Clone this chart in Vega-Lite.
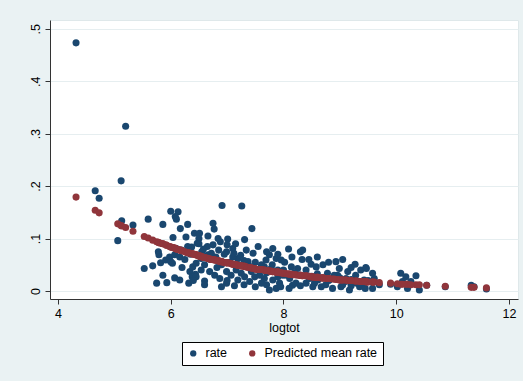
{
  "$schema": "https://vega.github.io/schema/vega-lite/v6.json",
  "width": 468,
  "height": 279,
  "autosize": {"type": "none"},
  "padding": {"left": 50, "top": 20, "right": 5, "bottom": 82},
  "background": "#EAF2F3",
  "config": {
    "font": "Liberation Sans",
    "view": {"fill": "white", "stroke": "#dfe8ea", "strokeWidth": 1}
  },
  "data": {"values": [
    {"logtot": 4.32, "rate": 0.473, "pred": 0.179},
    {"logtot": 4.66, "rate": 0.191, "pred": 0.154},
    {"logtot": 4.73, "rate": 0.177, "pred": 0.149},
    {"logtot": 5.06, "rate": 0.096, "pred": 0.128},
    {"logtot": 5.12, "rate": 0.210, "pred": 0.125},
    {"logtot": 5.13, "rate": 0.134, "pred": 0.124},
    {"logtot": 5.20, "rate": 0.314, "pred": 0.121},
    {"logtot": 5.33, "rate": 0.126, "pred": 0.114},
    {"logtot": 5.53, "rate": 0.043, "pred": 0.104},
    {"logtot": 5.60, "rate": 0.137, "pred": 0.101},
    {"logtot": 5.68, "rate": 0.048, "pred": 0.097},
    {"logtot": 5.75, "rate": 0.015, "pred": 0.094},
    {"logtot": 5.78, "rate": 0.075, "pred": 0.093},
    {"logtot": 5.79, "rate": 0.069, "pred": 0.092},
    {"logtot": 5.82, "rate": 0.054, "pred": 0.091},
    {"logtot": 5.86, "rate": 0.127, "pred": 0.090},
    {"logtot": 5.86, "rate": 0.030, "pred": 0.090},
    {"logtot": 5.91, "rate": 0.059, "pred": 0.088},
    {"logtot": 5.93, "rate": 0.016, "pred": 0.087},
    {"logtot": 5.98, "rate": 0.065, "pred": 0.085},
    {"logtot": 6.00, "rate": 0.152, "pred": 0.084},
    {"logtot": 6.13, "rate": 0.151, "pred": 0.079},
    {"logtot": 6.08, "rate": 0.142, "pred": 0.081},
    {"logtot": 6.10, "rate": 0.137, "pred": 0.080},
    {"logtot": 6.30, "rate": 0.127, "pred": 0.073},
    {"logtot": 6.17, "rate": 0.119, "pred": 0.078},
    {"logtot": 6.04, "rate": 0.102, "pred": 0.083},
    {"logtot": 6.27, "rate": 0.103, "pred": 0.074},
    {"logtot": 6.42, "rate": 0.110, "pred": 0.070},
    {"logtot": 6.07, "rate": 0.069, "pred": 0.082},
    {"logtot": 6.16, "rate": 0.065, "pred": 0.078},
    {"logtot": 6.03, "rate": 0.053, "pred": 0.083},
    {"logtot": 6.00, "rate": 0.056, "pred": 0.084},
    {"logtot": 6.07, "rate": 0.025, "pred": 0.082},
    {"logtot": 6.16, "rate": 0.021, "pred": 0.078},
    {"logtot": 6.32, "rate": 0.015, "pred": 0.073},
    {"logtot": 6.34, "rate": 0.037, "pred": 0.072},
    {"logtot": 6.39, "rate": 0.046, "pred": 0.071},
    {"logtot": 6.45, "rate": 0.053, "pred": 0.069},
    {"logtot": 6.44, "rate": 0.032, "pred": 0.069},
    {"logtot": 6.38, "rate": 0.027, "pred": 0.071},
    {"logtot": 6.37, "rate": 0.084, "pred": 0.071},
    {"logtot": 6.47, "rate": 0.091, "pred": 0.068},
    {"logtot": 6.19, "rate": 0.078, "pred": 0.077},
    {"logtot": 6.10, "rate": 0.081, "pred": 0.080},
    {"logtot": 6.91, "rate": 0.163, "pred": 0.056},
    {"logtot": 7.26, "rate": 0.162, "pred": 0.048},
    {"logtot": 6.75, "rate": 0.129, "pred": 0.060},
    {"logtot": 6.77, "rate": 0.118, "pred": 0.059},
    {"logtot": 7.44, "rate": 0.119, "pred": 0.044},
    {"logtot": 6.51, "rate": 0.110, "pred": 0.067},
    {"logtot": 6.66, "rate": 0.105, "pred": 0.062},
    {"logtot": 6.50, "rate": 0.100, "pred": 0.067},
    {"logtot": 6.84, "rate": 0.100, "pred": 0.058},
    {"logtot": 6.88, "rate": 0.094, "pred": 0.056},
    {"logtot": 7.01, "rate": 0.099, "pred": 0.054},
    {"logtot": 6.75, "rate": 0.088, "pred": 0.060},
    {"logtot": 7.31, "rate": 0.098, "pred": 0.047},
    {"logtot": 7.10, "rate": 0.081, "pred": 0.051},
    {"logtot": 6.99, "rate": 0.075, "pred": 0.054},
    {"logtot": 7.34, "rate": 0.078, "pred": 0.046},
    {"logtot": 7.46, "rate": 0.072, "pred": 0.043},
    {"logtot": 7.81, "rate": 0.081, "pred": 0.037},
    {"logtot": 7.75, "rate": 0.069, "pred": 0.038},
    {"logtot": 7.87, "rate": 0.062, "pred": 0.036},
    {"logtot": 7.69, "rate": 0.059, "pred": 0.039},
    {"logtot": 6.45, "rate": 0.027, "pred": 0.069},
    {"logtot": 6.60, "rate": 0.019, "pred": 0.064},
    {"logtot": 6.78, "rate": 0.030, "pred": 0.059},
    {"logtot": 6.87, "rate": 0.024, "pred": 0.057},
    {"logtot": 6.99, "rate": 0.015, "pred": 0.054},
    {"logtot": 7.07, "rate": 0.030, "pred": 0.052},
    {"logtot": 7.19, "rate": 0.021, "pred": 0.049},
    {"logtot": 7.31, "rate": 0.027, "pred": 0.047},
    {"logtot": 7.40, "rate": 0.018, "pred": 0.045},
    {"logtot": 7.49, "rate": 0.027, "pred": 0.043},
    {"logtot": 7.61, "rate": 0.015, "pred": 0.041},
    {"logtot": 7.66, "rate": 0.024, "pred": 0.040},
    {"logtot": 7.81, "rate": 0.021, "pred": 0.037},
    {"logtot": 7.90, "rate": 0.027, "pred": 0.036},
    {"logtot": 7.75, "rate": 0.002, "pred": 0.038},
    {"logtot": 7.87, "rate": 0.005, "pred": 0.036},
    {"logtot": 7.93, "rate": 0.015, "pred": 0.035},
    {"logtot": 6.99, "rate": 0.037, "pred": 0.054},
    {"logtot": 7.16, "rate": 0.040, "pred": 0.050},
    {"logtot": 7.25, "rate": 0.034, "pred": 0.048},
    {"logtot": 7.43, "rate": 0.037, "pred": 0.044},
    {"logtot": 7.55, "rate": 0.040, "pred": 0.041},
    {"logtot": 7.66, "rate": 0.046, "pred": 0.040},
    {"logtot": 7.78, "rate": 0.043, "pred": 0.038},
    {"logtot": 7.90, "rate": 0.040, "pred": 0.036},
    {"logtot": 6.54, "rate": 0.040, "pred": 0.066},
    {"logtot": 6.69, "rate": 0.037, "pred": 0.061},
    {"logtot": 6.54, "rate": 0.062, "pred": 0.066},
    {"logtot": 6.66, "rate": 0.069, "pred": 0.062},
    {"logtot": 7.19, "rate": 0.062, "pred": 0.049},
    {"logtot": 7.37, "rate": 0.056, "pred": 0.045},
    {"logtot": 7.61, "rate": 0.050, "pred": 0.041},
    {"logtot": 8.09, "rate": 0.080, "pred": 0.033},
    {"logtot": 8.30, "rate": 0.075, "pred": 0.030},
    {"logtot": 8.34, "rate": 0.078, "pred": 0.029},
    {"logtot": 8.33, "rate": 0.060, "pred": 0.029},
    {"logtot": 7.96, "rate": 0.059, "pred": 0.035},
    {"logtot": 8.02, "rate": 0.055, "pred": 0.034},
    {"logtot": 8.14, "rate": 0.046, "pred": 0.032},
    {"logtot": 8.25, "rate": 0.043, "pred": 0.030},
    {"logtot": 8.49, "rate": 0.051, "pred": 0.027},
    {"logtot": 8.58, "rate": 0.046, "pred": 0.026},
    {"logtot": 8.70, "rate": 0.050, "pred": 0.025},
    {"logtot": 8.93, "rate": 0.056, "pred": 0.022},
    {"logtot": 9.27, "rate": 0.051, "pred": 0.019},
    {"logtot": 8.99, "rate": 0.043, "pred": 0.021},
    {"logtot": 9.14, "rate": 0.037, "pred": 0.020},
    {"logtot": 9.37, "rate": 0.040, "pred": 0.018},
    {"logtot": 8.16, "rate": 0.011, "pred": 0.031},
    {"logtot": 8.22, "rate": 0.015, "pred": 0.031},
    {"logtot": 8.40, "rate": 0.015, "pred": 0.029},
    {"logtot": 8.52, "rate": 0.008, "pred": 0.027},
    {"logtot": 8.67, "rate": 0.008, "pred": 0.025},
    {"logtot": 8.87, "rate": 0.005, "pred": 0.023},
    {"logtot": 9.02, "rate": 0.008, "pred": 0.021},
    {"logtot": 9.17, "rate": 0.002, "pred": 0.020},
    {"logtot": 9.35, "rate": 0.008, "pred": 0.018},
    {"logtot": 8.46, "rate": 0.024, "pred": 0.028},
    {"logtot": 8.61, "rate": 0.021, "pred": 0.026},
    {"logtot": 8.81, "rate": 0.021, "pred": 0.024},
    {"logtot": 9.11, "rate": 0.024, "pred": 0.021},
    {"logtot": 9.43, "rate": 0.021, "pred": 0.018},
    {"logtot": 7.99, "rate": 0.030, "pred": 0.034},
    {"logtot": 8.11, "rate": 0.024, "pred": 0.032},
    {"logtot": 8.78, "rate": 0.034, "pred": 0.024},
    {"logtot": 8.96, "rate": 0.030, "pred": 0.022},
    {"logtot": 9.28, "rate": 0.030, "pred": 0.019},
    {"logtot": 9.46, "rate": 0.045, "pred": 0.018},
    {"logtot": 9.58, "rate": 0.034, "pred": 0.017},
    {"logtot": 9.61, "rate": 0.024, "pred": 0.017},
    {"logtot": 9.58, "rate": 0.005, "pred": 0.017},
    {"logtot": 9.47, "rate": 0.043, "pred": 0.017},
    {"logtot": 10.08, "rate": 0.034, "pred": 0.013},
    {"logtot": 10.17, "rate": 0.027, "pred": 0.013},
    {"logtot": 10.35, "rate": 0.029, "pred": 0.012},
    {"logtot": 10.02, "rate": 0.008, "pred": 0.014},
    {"logtot": 10.20, "rate": 0.005, "pred": 0.013},
    {"logtot": 10.41, "rate": 0.002, "pred": 0.012},
    {"logtot": 10.26, "rate": 0.018, "pred": 0.012},
    {"logtot": 10.11, "rate": 0.018, "pred": 0.013},
    {"logtot": 10.54, "rate": 0.011, "pred": 0.011},
    {"logtot": 11.33, "rate": 0.011, "pred": 0.007},
    {"logtot": 11.38, "rate": 0.008, "pred": 0.007},
    {"logtot": 9.70, "rate": 0.012, "pred": 0.016},
    {"logtot": 9.90, "rate": 0.013, "pred": 0.015},
    {"logtot": 10.87, "rate": 0.008, "pred": 0.009},
    {"logtot": 11.60, "rate": 0.004, "pred": 0.006},
    {"logtot": 6.20, "rate": 0.045, "pred": 0.077},
    {"logtot": 6.25, "rate": 0.060, "pred": 0.075},
    {"logtot": 6.35, "rate": 0.070, "pred": 0.072},
    {"logtot": 6.55, "rate": 0.075, "pred": 0.065},
    {"logtot": 6.60, "rate": 0.050, "pred": 0.064},
    {"logtot": 6.70, "rate": 0.060, "pred": 0.061},
    {"logtot": 6.80, "rate": 0.065, "pred": 0.059},
    {"logtot": 6.90, "rate": 0.050, "pred": 0.056},
    {"logtot": 6.95, "rate": 0.070, "pred": 0.054},
    {"logtot": 7.05, "rate": 0.055, "pred": 0.053},
    {"logtot": 7.10, "rate": 0.065, "pred": 0.051},
    {"logtot": 7.20, "rate": 0.050, "pred": 0.049},
    {"logtot": 7.30, "rate": 0.058, "pred": 0.047},
    {"logtot": 7.40, "rate": 0.047, "pred": 0.045},
    {"logtot": 7.50, "rate": 0.055, "pred": 0.042},
    {"logtot": 7.60, "rate": 0.045, "pred": 0.041},
    {"logtot": 7.70, "rate": 0.035, "pred": 0.039},
    {"logtot": 7.80, "rate": 0.050, "pred": 0.037},
    {"logtot": 7.90, "rate": 0.035, "pred": 0.036},
    {"logtot": 8.00, "rate": 0.040, "pred": 0.034},
    {"logtot": 8.05, "rate": 0.030, "pred": 0.033},
    {"logtot": 8.20, "rate": 0.035, "pred": 0.031},
    {"logtot": 8.30, "rate": 0.030, "pred": 0.030},
    {"logtot": 8.40, "rate": 0.040, "pred": 0.029},
    {"logtot": 8.50, "rate": 0.028, "pred": 0.027},
    {"logtot": 8.60, "rate": 0.033, "pred": 0.026},
    {"logtot": 8.70, "rate": 0.025, "pred": 0.025},
    {"logtot": 8.80, "rate": 0.020, "pred": 0.024},
    {"logtot": 8.90, "rate": 0.030, "pred": 0.023},
    {"logtot": 9.00, "rate": 0.025, "pred": 0.021},
    {"logtot": 9.10, "rate": 0.018, "pred": 0.021},
    {"logtot": 9.20, "rate": 0.022, "pred": 0.020},
    {"logtot": 9.30, "rate": 0.015, "pred": 0.019},
    {"logtot": 9.40, "rate": 0.012, "pred": 0.018},
    {"logtot": 9.50, "rate": 0.020, "pred": 0.017},
    {"logtot": 6.40, "rate": 0.020, "pred": 0.070},
    {"logtot": 6.60, "rate": 0.012, "pred": 0.064},
    {"logtot": 6.90, "rate": 0.008, "pred": 0.056},
    {"logtot": 7.00, "rate": 0.020, "pred": 0.054},
    {"logtot": 7.30, "rate": 0.012, "pred": 0.047},
    {"logtot": 7.50, "rate": 0.008, "pred": 0.042},
    {"logtot": 7.70, "rate": 0.012, "pred": 0.039},
    {"logtot": 7.95, "rate": 0.008, "pred": 0.035},
    {"logtot": 8.10, "rate": 0.005, "pred": 0.032},
    {"logtot": 8.30, "rate": 0.010, "pred": 0.030},
    {"logtot": 8.55, "rate": 0.015, "pred": 0.026},
    {"logtot": 8.75, "rate": 0.012, "pred": 0.024},
    {"logtot": 9.05, "rate": 0.012, "pred": 0.021},
    {"logtot": 9.20, "rate": 0.010, "pred": 0.020},
    {"logtot": 9.45, "rate": 0.005, "pred": 0.018},
    {"logtot": 6.30, "rate": 0.085, "pred": 0.073},
    {"logtot": 6.50, "rate": 0.090, "pred": 0.067},
    {"logtot": 6.65, "rate": 0.085, "pred": 0.063},
    {"logtot": 7.00, "rate": 0.088, "pred": 0.054},
    {"logtot": 7.15, "rate": 0.090, "pred": 0.050},
    {"logtot": 7.55, "rate": 0.085, "pred": 0.041},
    {"logtot": 7.70, "rate": 0.075, "pred": 0.039},
    {"logtot": 7.90, "rate": 0.070, "pred": 0.036},
    {"logtot": 8.15, "rate": 0.065, "pred": 0.032},
    {"logtot": 8.45, "rate": 0.060, "pred": 0.028},
    {"logtot": 8.60, "rate": 0.065, "pred": 0.026},
    {"logtot": 8.80, "rate": 0.055, "pred": 0.024},
    {"logtot": 9.05, "rate": 0.060, "pred": 0.021},
    {"logtot": 9.20, "rate": 0.045, "pred": 0.020},
    {"logtot": 6.58, "rate": 0.080, "pred": 0.064},
    {"logtot": 6.72, "rate": 0.072, "pred": 0.060},
    {"logtot": 6.85, "rate": 0.078, "pred": 0.057},
    {"logtot": 7.12, "rate": 0.072, "pred": 0.051},
    {"logtot": 7.24, "rate": 0.068, "pred": 0.048},
    {"logtot": 6.82, "rate": 0.045, "pred": 0.058},
    {"logtot": 7.13, "rate": 0.010, "pred": 0.051},
    {"logtot": 7.58, "rate": 0.030, "pred": 0.041}
  ]},
  "encoding": {
    "x": {
      "field": "logtot",
      "type": "quantitative",
      "scale": {"domain": [3.858, 12.16], "nice": false, "zero": false},
      "axis": {
        "values": [4, 6, 8, 10, 12],
        "format": "d",
        "title": "logtot",
        "grid": false,
        "tickSize": 5,
        "labelFontSize": 12.5,
        "titleFontSize": 12.5,
        "titleFontWeight": "normal",
        "labelPadding": 3,
        "titlePadding": 2,
        "domainColor": "#333333",
        "tickColor": "#333333",
        "labelColor": "black",
        "titleColor": "black"
      }
    }
  },
  "layer": [
    {
      "mark": {"type": "circle", "size": 50, "opacity": 1},
      "encoding": {
        "y": {
          "field": "rate",
          "type": "quantitative",
          "scale": {"domain": [-0.0152, 0.5166], "nice": false, "zero": false},
          "axis": {
            "values": [0, 0.1, 0.2, 0.3, 0.4, 0.5],
            "labelExpr": "datum.value == 0 ? '0' : replace(format(datum.value, '.1f'), '0.', '.')",
            "labelAngle": -90,
            "title": null,
            "grid": true,
            "gridColor": "#E6EEF0",
            "tickSize": 5,
            "labelPadding": 3,
            "labelFontSize": 12.5,
            "domainColor": "#333333",
            "tickColor": "#333333",
            "labelColor": "black"
          }
        },
        "color": {
          "datum": "rate",
          "type": "nominal",
          "scale": {"domain": ["rate", "Predicted mean rate"], "range": ["#1A476F", "#90353B"]},
          "legend": {
            "title": null,
            "orient": "none",
            "legendX": 132,
            "legendY": 322,
            "direction": "horizontal",
            "fillColor": "white",
            "strokeColor": "black",
            "padding": 5,
            "symbolType": "circle",
            "symbolSize": 40,
            "labelFontSize": 12.5,
            "labelColor": "black",
            "labelOffset": 6,
            "columnPadding": 18
          }
        }
      }
    },
    {
      "mark": {"type": "circle", "size": 50, "opacity": 1},
      "encoding": {
        "y": {
          "field": "pred",
          "type": "quantitative",
          "scale": {"domain": [-0.0152, 0.5166], "nice": false, "zero": false},
          "title": null
        },
        "color": {"datum": "Predicted mean rate", "type": "nominal"}
      }
    }
  ]
}
